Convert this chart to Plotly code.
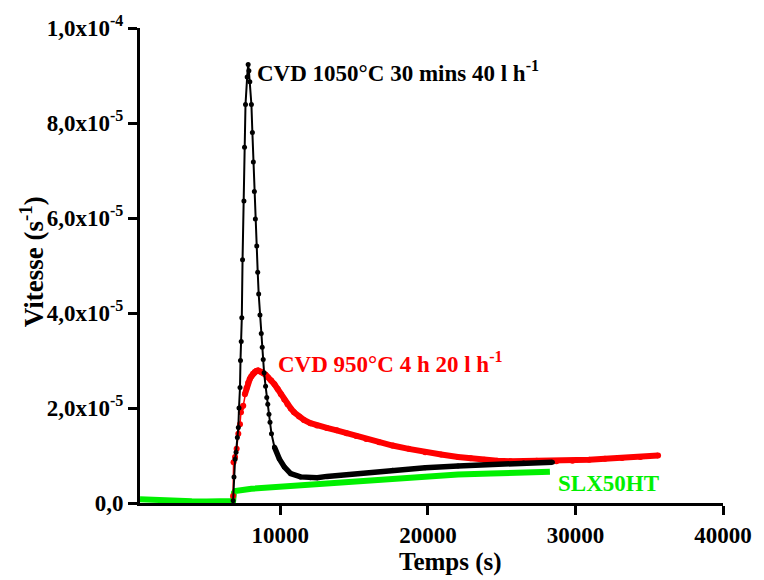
import plotly.graph_objects as go

# ---------------- data ----------------
# CVD 1050°C 30 mins 40 l/h  (black)
t_black = [6800, 6860, 6933, 7000, 7087, 7153, 7200, 7267, 7300, 7350, 7390,
           7440, 7533, 7573, 7640, 7753, 7820, 7870, 7933, 8040, 8107, 8173,
           8240, 8307, 8400, 8467, 8533, 8620, 8707, 8773, 8840, 8900, 9000,
           9080, 9150, 9230, 9300, 9400, 9600, 9930, 10270, 10700, 11370,
           12040, 12500, 13153, 15373, 17600, 19820, 22040, 24267, 26487, 28440]
v_black = [0.05, 0.55, 0.92, 1.07, 1.38, 1.59, 2.00, 2.43, 3.00, 3.40, 3.90,
           5.12, 6.36, 7.49, 8.39, 8.97, 9.23, 9.10, 8.87, 8.39, 7.80, 7.18,
           6.56, 5.98, 5.41, 4.86, 4.40, 3.96, 3.57, 3.28, 3.02, 2.74, 2.46,
           2.22, 2.08, 1.87, 1.70, 1.46, 1.18, 0.93, 0.76, 0.62, 0.55,
           0.53, 0.53, 0.56, 0.62, 0.69, 0.74, 0.78, 0.81, 0.84, 0.86]

# CVD 950°C 4 h 20 l/h  (red)
t_red = [6800, 6830, 6933, 7040, 7153, 7267, 7333, 7373, 7487, 7600, 7710,
         7820, 7930, 8040, 8150, 8267, 8380, 8487, 8650, 8820, 9000, 9153,
         9380, 9600, 9820, 10040, 10270, 10487, 10710, 10933, 11270, 11600,
         12040, 12487, 13153, 13820, 14487, 15150, 15820, 16700, 17600,
         18700, 19820, 20900, 22040, 22900, 23820, 24700, 25600, 26500,
         27373, 28000, 28707, 29800, 30933, 32000, 33153, 34400, 35600]
v_red = [0.15, 0.86, 0.97, 1.14, 1.46, 1.66, 1.91, 2.01, 2.05, 2.29, 2.42,
         2.53, 2.61, 2.67, 2.72, 2.76, 2.78, 2.79, 2.77, 2.74, 2.70, 2.65,
         2.58, 2.50, 2.40, 2.29, 2.18, 2.08, 1.99, 1.91, 1.82, 1.75,
         1.68, 1.63, 1.58, 1.53, 1.47, 1.41, 1.35, 1.28, 1.21,
         1.14, 1.07, 1.02, 0.97, 0.94, 0.91, 0.89, 0.88, 0.88,
         0.89, 0.88, 0.88, 0.89, 0.91, 0.93, 0.95, 0.97, 1.00]

# SLX50HT  (green)
t_green = [490, 1000, 2000, 3000, 4000, 5000, 6000, 6800, 6860, 6933, 8040,
           10270, 13153, 15373, 17600, 19820, 22040, 24267, 26487, 28270]
v_green = [0.08, 0.07, 0.05, 0.04, 0.035, 0.03, 0.03, 0.04, 0.22, 0.25, 0.30,
           0.35, 0.42, 0.48, 0.53, 0.57, 0.60, 0.62, 0.64, 0.66]

y_tickvals = [0, 2e-5, 4e-5, 6e-5, 8e-5, 1e-4]
y_ticktext = ["0,0", "2,0x10<sup>-5</sup>", "4,0x10<sup>-5</sup>",
              "6,0x10<sup>-5</sup>", "8,0x10<sup>-5</sup>", "1,0x10<sup>-4</sup>"]
x_tickvals = [10000, 20000, 30000, 40000]
x_ticktext = ["10000", "20000", "30000", "40000"]

label_black = "CVD 1050°C 30 mins 40 l h<sup>-1</sup>"
label_red = "CVD 950°C 4 h 20 l h<sup>-1</sup>"
label_green = "SLX50HT"

# ---------------- figure ----------------
SCALE = 1e-5
FONT = "Liberation Serif, Times New Roman, serif"
BLACK, RED, GREEN = "#000000", "#ff0000", "#00f000"

yb = [v * SCALE for v in v_black]
yr = [v * SCALE for v in v_red]
yg = [v * SCALE for v in v_green]

fig = go.Figure()

# green (dense points -> thick band)
fig.add_trace(go.Scatter(x=t_green, y=yg, mode="lines",
                         line=dict(color=GREEN, width=6), showlegend=False))

# red: thin line + dots, dense part as a thick band
fig.add_trace(go.Scatter(x=t_red, y=yr, mode="lines+markers",
                         line=dict(color=RED, width=1.5),
                         marker=dict(color=RED, size=6), showlegend=False))
i_r = t_red.index(7600)
fig.add_trace(go.Scatter(x=t_red[i_r:], y=yr[i_r:], mode="lines",
                         line=dict(color=RED, width=6), showlegend=False))

# black: thin line + dots, dense tail as a thick band
fig.add_trace(go.Scatter(x=t_black, y=yb, mode="lines+markers",
                         line=dict(color=BLACK, width=2),
                         marker=dict(color=BLACK, size=5), showlegend=False))
i_b = t_black.index(9600)
fig.add_trace(go.Scatter(x=t_black[i_b:], y=yb[i_b:], mode="lines",
                         line=dict(color=BLACK, width=5.5), showlegend=False))

annotations = [
    dict(x=8280, y=9.08e-5, xref="x", yref="y", text=label_black,
         showarrow=False, xanchor="left", yanchor="middle",
         font=dict(family=FONT, size=23, weight="bold", color=BLACK)),
    dict(x=9700, y=2.95e-5, xref="x", yref="y", text=label_red,
         showarrow=False, xanchor="left", yanchor="middle",
         font=dict(family=FONT, size=23, weight="bold", color=RED)),
    dict(x=28700, y=0.41e-5, xref="x", yref="y", text=label_green,
         showarrow=False, xanchor="left", yanchor="middle",
         font=dict(family=FONT, size=23, weight="bold", color=GREEN)),
    # axis titles
    dict(x=0.533, y=-0.125, xref="paper", yref="paper", text="Temps (s)",
         showarrow=False, xanchor="center", yanchor="middle",
         font=dict(family=FONT, size=25, weight="bold", color=BLACK)),
    dict(x=-0.185, y=0.507, xref="paper", yref="paper",
         text="Vitesse (s<sup>-1</sup>)", textangle=-90,
         showarrow=False, xanchor="center", yanchor="middle",
         font=dict(family=FONT, size=27, weight="bold", color=BLACK)),
]

axis_common = dict(showgrid=False, zeroline=False, showline=True,
                   linecolor=BLACK, linewidth=3, ticks="outside",
                   ticklen=9, tickwidth=3, tickcolor=BLACK,
                   tickfont=dict(family=FONT, size=23, weight="bold", color=BLACK),
                   mirror=False)

fig.update_xaxes(range=[490, 40000], tickmode="array", tickvals=x_tickvals,
                 ticktext=x_ticktext, **axis_common)
fig.update_yaxes(range=[0, 1e-4], tickmode="array", tickvals=y_tickvals,
                 ticktext=y_ticktext, **axis_common)

fig.update_layout(width=764, height=580,
                  margin=dict(l=140, r=31, t=24, b=77),
                  plot_bgcolor="white", paper_bgcolor="white",
                  annotations=annotations, showlegend=False,
                  font=dict(family=FONT, color=BLACK))

fig.write_html("out.html",
               config={"displayModeBar": False},
               post_script="document.body.style.margin='0';"
                           "document.body.style.overflow='hidden';")
